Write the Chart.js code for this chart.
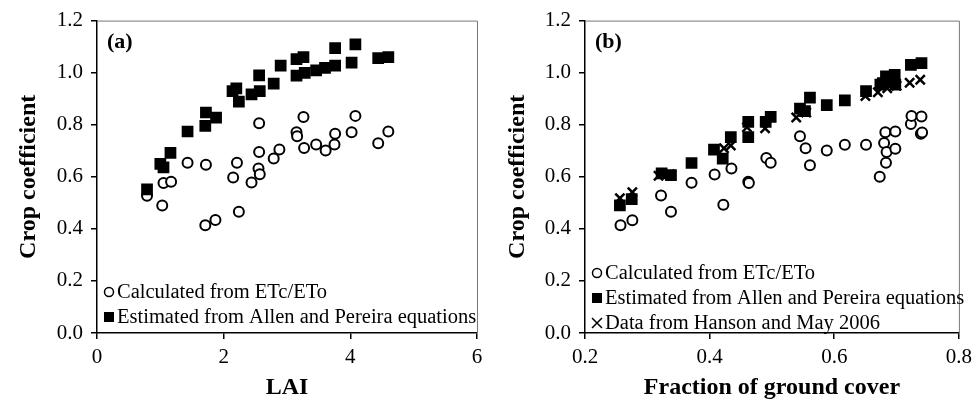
<!DOCTYPE html>
<html>
<head>
<meta charset="utf-8">
<script src="https://cdn.jsdelivr.net/npm/chart.js@4/dist/chart.umd.min.js"></script>
<style>
  html, body { margin: 0; padding: 0; background: #fff; }
  #wrap { position: relative; width: 978px; height: 414px; }
  #wrap canvas { position: absolute; top: 0; }
</style>
</head>
<body>
<div id="wrap">
  <canvas id="chartA" width="489" height="414" style="left:0"></canvas>
  <canvas id="chartB" width="489" height="414" style="left:489px"></canvas>
</div>
<script>
// panel (a): crop coefficient vs LAI
const laiCalcX = [0.79, 1.03, 1.05, 1.17, 1.43, 1.72, 1.71, 1.87, 2.15, 2.21, 2.24, 2.44, 2.55, 2.57, 2.56, 2.56, 2.79, 2.88, 3.15, 3.16, 3.26, 3.27, 3.46, 3.61, 3.75, 3.76, 4.02, 4.08, 4.44, 4.60];
const laiCalcY = [0.527, 0.49, 0.576, 0.581, 0.654, 0.646, 0.414, 0.434, 0.597, 0.654, 0.466, 0.578, 0.632, 0.61, 0.695, 0.806, 0.67, 0.705, 0.771, 0.756, 0.83, 0.711, 0.724, 0.701, 0.724, 0.765, 0.771, 0.834, 0.729, 0.774];
const laiEstX = [0.79, 1.0, 1.05, 1.16, 1.43, 1.71, 1.72, 1.88, 2.14, 2.2, 2.24, 2.44, 2.57, 2.56, 2.79, 2.9, 3.15, 3.15, 3.26, 3.28, 3.46, 3.60, 3.76, 3.76, 4.02, 4.08, 4.44, 4.60];
const laiEstY = [0.552, 0.65, 0.636, 0.692, 0.774, 0.796, 0.847, 0.827, 0.929, 0.94, 0.889, 0.917, 0.929, 0.99, 0.958, 1.027, 0.989, 1.052, 1.06, 0.999, 1.009, 1.018, 1.027, 1.094, 1.039, 1.109, 1.056, 1.06];

// panel (b): crop coefficient vs fraction of ground cover
const fcCalcX = [0.257, 0.276, 0.322, 0.338, 0.371, 0.408, 0.422, 0.435, 0.462, 0.463, 0.491, 0.498, 0.545, 0.554, 0.561, 0.588, 0.617, 0.651, 0.673, 0.680, 0.682, 0.683, 0.684, 0.698, 0.698, 0.723, 0.724, 0.740, 0.739, 0.741];
const fcCalcY = [0.414, 0.433, 0.528, 0.466, 0.577, 0.609, 0.493, 0.632, 0.581, 0.576, 0.672, 0.654, 0.756, 0.71, 0.644, 0.701, 0.723, 0.723, 0.60, 0.73, 0.771, 0.654, 0.695, 0.774, 0.708, 0.803, 0.834, 0.832, 0.765, 0.77];
const fcEstX = [0.256, 0.275, 0.323, 0.338, 0.371, 0.407, 0.421, 0.434, 0.462, 0.462, 0.49, 0.498, 0.545, 0.553, 0.561, 0.588, 0.617, 0.651, 0.674, 0.678, 0.683, 0.684, 0.69, 0.697, 0.698, 0.723, 0.740];
const fcEstY = [0.49, 0.514, 0.613, 0.606, 0.653, 0.704, 0.67, 0.752, 0.752, 0.811, 0.811, 0.830, 0.862, 0.852, 0.904, 0.875, 0.894, 0.929, 0.954, 0.96, 0.986, 0.966, 0.975, 0.992, 0.954, 1.03, 1.037];
const fcHansonX = [0.256, 0.276, 0.318, 0.336, 0.423, 0.434, 0.46, 0.489, 0.539, 0.555, 0.65, 0.67, 0.685, 0.70, 0.721, 0.738];
const fcHansonY = [0.518, 0.541, 0.604, 0.61, 0.71, 0.72, 0.79, 0.786, 0.828, 0.847, 0.91, 0.925, 0.94, 0.95, 0.961, 0.973];

const yTicks = [0, 0.2, 0.4, 0.6, 0.8, 1.0, 1.2];
const laiTicks = [0, 2, 4, 6];
const fcTicks = [0.2, 0.4, 0.6, 0.8];

const serif = "'Times New Roman', 'Liberation Serif', serif";

function pts(xs, ys) {
  return xs.map((x, i) => ({ x: x, y: ys[i] }));
}

function drawMarker(ctx, style, x, y) {
  ctx.save();
  ctx.strokeStyle = '#000';
  ctx.fillStyle = '#000';
  ctx.lineWidth = 1.5;
  if (style === 'circle') {
    ctx.beginPath();
    ctx.arc(x, y, 4.5, 0, Math.PI * 2);
    ctx.stroke();
  } else if (style === 'rect') {
    ctx.fillRect(x - 5, y - 5, 10, 10);
  } else {
    ctx.beginPath();
    ctx.moveTo(x - 5, y - 5); ctx.lineTo(x + 5, y + 5);
    ctx.moveTo(x + 5, y - 5); ctx.lineTo(x - 5, y + 5);
    ctx.stroke();
  }
  ctx.restore();
}

// legend inside the plot area, plus panel letter and plot frame
const panelDecor = {
  id: 'panelDecor',
  afterDraw(chart, args, opts) {
    const ctx = chart.ctx;
    const area = chart.chartArea;
    ctx.save();
    ctx.strokeStyle = '#777';
    ctx.lineWidth = 1;
    ctx.beginPath();
    ctx.moveTo(area.left, area.top + 0.5);
    ctx.lineTo(area.right + 0.5, area.top + 0.5);
    ctx.lineTo(area.right + 0.5, area.bottom);
    ctx.stroke();

    ctx.fillStyle = '#000';
    ctx.font = 'bold 22px ' + serif;
    ctx.textBaseline = 'middle';
    ctx.textAlign = 'left';
    ctx.fillText(opts.letter, area.left + 10, 42);

    ctx.font = '20.5px ' + serif;
    chart.data.datasets.forEach((ds, i) => {
      const y = opts.firstRow + i * opts.rowGap;
      drawMarker(ctx, ds.pointStyle, area.left + 12, y);
      ctx.fillStyle = '#000';
      ctx.fillText(ds.label, area.left + 20, y + 1);
    });
    ctx.restore();
  }
};

function makeOptions(xMin, xMax, xTicks, xTickFmt, xTitle, yWidth, padRight, letter, firstRow) {
  return {
    responsive: false,
    animation: false,
    layout: { padding: { top: 17, right: padRight, left: 0, bottom: 0 } },
    plugins: {
      legend: { display: false },
      tooltip: { enabled: false },
      panelDecor: { letter: letter, firstRow: firstRow, rowGap: 25 }
    },
    scales: {
      x: {
        type: 'linear',
        min: xMin, max: xMax,
        afterFit: s => { s.height = 81; },
        afterBuildTicks: s => { s.ticks = xTicks.map(v => ({ value: v })); },
        ticks: { color: '#000', font: { family: serif, size: 21 }, padding: 6, callback: xTickFmt, maxRotation: 0 },
        grid: { display: true, drawOnChartArea: false, drawTicks: true, tickLength: 6, color: '#000', lineWidth: 1.5 },
        border: { display: true, color: '#000', width: 1.5 },
        title: { display: true, text: xTitle, color: '#000', font: { family: serif, size: 24, weight: 'bold' }, padding: { top: 0, bottom: 12 } }
      },
      y: {
        type: 'linear',
        min: 0, max: 1.2,
        afterFit: s => { s.width = yWidth; },
        afterBuildTicks: s => { s.ticks = yTicks.map(v => ({ value: v })); },
        ticks: { color: '#000', font: { family: serif, size: 21 }, padding: 8, callback: v => v.toFixed(1) },
        grid: { display: true, drawOnChartArea: false, drawTicks: true, tickLength: 6, color: '#000', lineWidth: 1.5 },
        border: { display: true, color: '#000', width: 1.5 },
        title: { display: true, text: 'Crop coefficient', color: '#000', font: { family: serif, size: 24, weight: 'bold' }, padding: { top: 14, bottom: 0 } }
      }
    }
  };
}

const circleSet = (label, data) => ({
  label: label, data: data, order: 3,
  pointStyle: 'circle', pointRadius: 5, pointBorderWidth: 2,
  pointBackgroundColor: '#fff', pointBorderColor: '#000', showLine: false
});
const squareSet = (label, data) => ({
  label: label, data: data, order: 2,
  pointStyle: 'rect', pointRadius: 8.3, pointBorderWidth: 0,
  pointBackgroundColor: '#000', pointBorderColor: '#000', showLine: false
});
const crossSet = (label, data) => ({
  label: label, data: data, order: 1,
  pointStyle: 'crossRot', pointRadius: 6.5, pointBorderWidth: 2.5,
  pointBackgroundColor: '#000', pointBorderColor: '#000', showLine: false
});

new Chart(document.getElementById('chartA'), {
  type: 'scatter',
  data: {
    datasets: [
      circleSet('Calculated from ETc/ETo', pts(laiCalcX, laiCalcY)),
      squareSet('Estimated from Allen and Pereira equations', pts(laiEstX, laiEstY))
    ]
  },
  options: makeOptions(0, 6, laiTicks, v => String(v), 'LAI', 97, 12, '(a)', 292),
  plugins: [panelDecor]
});

new Chart(document.getElementById('chartB'), {
  type: 'scatter',
  data: {
    datasets: [
      circleSet('Calculated from ETc/ETo', pts(fcCalcX, fcCalcY)),
      squareSet('Estimated from Allen and Pereira equations', pts(fcEstX, fcEstY)),
      crossSet('Data from Hanson and May 2006', pts(fcHansonX, fcHansonY))
    ]
  },
  options: makeOptions(0.2, 0.8, fcTicks, v => v.toFixed(1), 'Fraction of ground cover', 96, 13, '(b)', 273),
  plugins: [panelDecor]
});
</script>
</body>
</html>
